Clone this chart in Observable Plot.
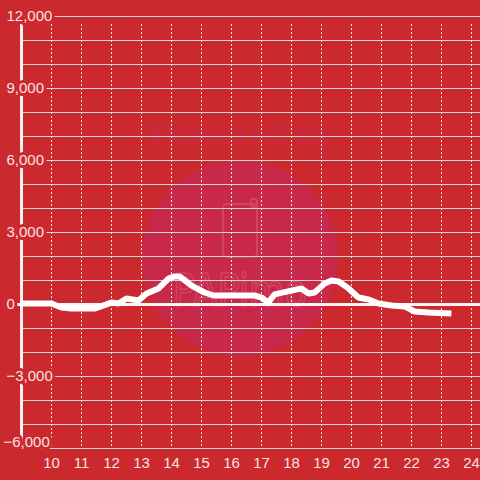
<!DOCTYPE html>
<html><head><meta charset="utf-8">
<script src="https://cdn.jsdelivr.net/npm/d3@7"></script>
<script src="https://cdn.jsdelivr.net/npm/@observablehq/plot@0.6"></script>
<style>
html,body{margin:0;padding:0;background:#cc292e;}
#wrap{position:relative;width:480px;height:480px;overflow:hidden;}
#wm,#chart{position:absolute;left:0;top:0;}
</style></head><body>
<div id="wrap">
<svg id="wm" width="480" height="480">
  <circle cx="240" cy="258" r="98" fill="#c8284a"/>
  <text x="150" y="144" textLength="185" lengthAdjust="spacingAndGlyphs" font-family="Liberation Sans, Arial, sans-serif" font-size="28" font-weight="bold" font-style="italic" fill="#c92a40">Powered by</text>
  <rect x="223" y="204" width="34" height="53" rx="4" fill="none" stroke="#d0465e" stroke-width="2"/>
  <rect x="251" y="199" width="6" height="8" rx="2" fill="none" stroke="#d0465e" stroke-width="2"/>
  <text x="173" y="306" textLength="134" lengthAdjust="spacingAndGlyphs" font-family="DejaVu Sans, sans-serif" font-size="44" fill="none" stroke="#d0465e" stroke-width="1.6">PAPimo</text>
</svg>
<div id="chart"></div>
</div>
<script>
const hours = [9.0, 10.0, 10.33, 10.67, 11.43, 12.0, 12.23, 12.5, 12.9, 13.17, 13.57, 13.9, 14.1, 14.27, 14.67, 15.1, 15.4, 16.77, 17.0, 17.23, 17.43, 18.0, 18.33, 18.57, 18.77, 19.1, 19.33, 19.57, 19.9, 20.23, 20.57, 20.9, 21.33, 21.77, 22.1, 22.57, 23.33];
const values = [40, 40, -125, -170, -170, 80, 40, 250, 170, 460, 670, 1080, 1170, 1170, 790, 500, 375, 375, 290, 80, 420, 580, 670, 460, 500, 870, 1000, 960, 670, 290, 210, 40, -40, -80, -290, -330, -370];
const yTicks = [12000, 9000, 6000, 3000, 0, -3000];
const yBottomTick = [-6000];
const yGrid = [-6000, -5000, -4000, -3000, -2000, -1000, 0, 1000, 2000, 3000, 4000, 5000, 6000, 7000, 8000, 9000, 10000, 11000, 12000];
const xTicks = [10, 11, 12, 13, 14, 15, 16, 17, 18, 19, 20, 21, 22, 23, 24];

const data = hours.map((h, i) => ({h, v: values[i]}));
const bg = "#cc292e";
const labelColor = "#f6e3e4";
const fmt = d3.format(",");

const chart = Plot.plot({
  width: 480, height: 480,
  marginLeft: 21, marginRight: 0, marginTop: 16, marginBottom: 32,
  style: {background: "transparent", fontFamily: "Liberation Sans, Arial, sans-serif"},
  x: {domain: [9, 24.3], axis: null},
  y: {domain: [-6000, 12000], axis: null},
  marks: [
    Plot.ruleY(yGrid, {y: d => d, x1: 9.033, x2: 24.3, stroke: "#d9d2d2", strokeWidth: 1}),
    Plot.ruleX(xTicks, {x: d => d, y1: -5917, y2: 11708, stroke: "#ece6e6", strokeWidth: 1, strokeDasharray: "2,2"}),
    Plot.ruleX([9], {x: d => d, y1: -6000, y2: 11667, stroke: "#f2f0f0", strokeWidth: 3}),
    Plot.ruleY([0], {y: d => d, x1: 8.87, x2: 24.3, stroke: "#f7f4f4", strokeWidth: 3}),
    Plot.line(data, {x: "h", y: "v", stroke: "#ffffff", strokeWidth: 6, strokeLinecap: "butt", strokeLinejoin: "miter"}),
    Plot.text(yTicks, {x: () => 9, y: d => d, text: d => fmt(d), textAnchor: "start", dx: -15, fill: labelColor, stroke: bg, strokeWidth: 6, fontSize: 15}),
    Plot.text(yBottomTick, {x: () => 9, y: d => d, text: d => fmt(d), textAnchor: "start", dx: -18, dy: -6, fill: labelColor, stroke: bg, strokeWidth: 6, fontSize: 15}),
    Plot.text(xTicks, {x: d => d, y: () => -6000, dy: 15, text: d => String(d), fill: labelColor, fontSize: 15})
  ]
});
document.getElementById("chart").appendChild(chart);
</script>
</body></html>
